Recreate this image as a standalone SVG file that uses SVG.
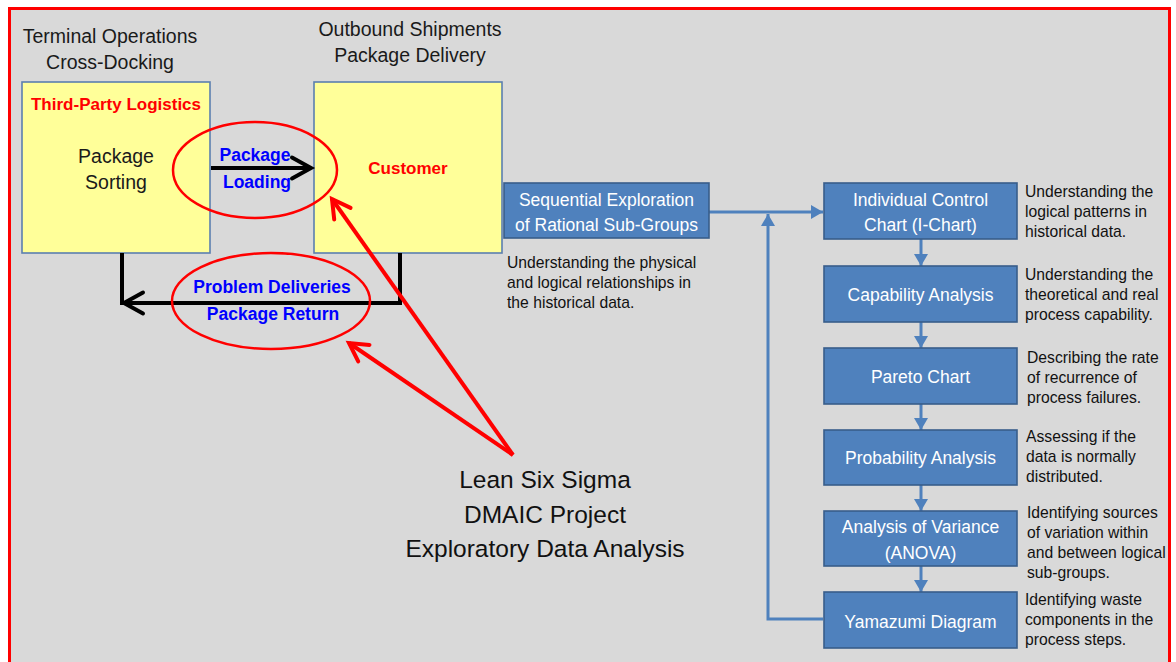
<svg xmlns="http://www.w3.org/2000/svg" width="1176" height="662" viewBox="0 0 1176 662">
  <style>
    .sans { font-family: "Liberation Sans", Arial, sans-serif; }
    .title { font-size: 19.5px; fill: #1a1a1a; text-anchor: middle; }
    .yellow { fill: #FFFF99; stroke: #5B7FAF; stroke-width: 1.6; }
    .bluebox { fill: #4F81BD; stroke: #385D8A; stroke-width: 1.6; }
    .boxtext { font-size: 17.5px; fill: #ffffff; text-anchor: middle; }
    .desc { font-size: 15.7px; fill: #111111; }
    .redbold { font-size: 17px; font-weight: bold; fill: #FF0000; text-anchor: middle; }
    .bluebold { font-size: 17.5px; font-weight: bold; fill: #0000FF; text-anchor: middle; }
    .flow { stroke: #4F81BD; stroke-width: 3; fill: none; }
    .black { stroke: #000000; stroke-width: 4; fill: none; }
    .ring { stroke: #FF0000; stroke-width: 2.5; fill: none; }
    .pointer { stroke: #FF0000; stroke-width: 4; fill: none; }
    .caption { font-size: 24.5px; fill: #111111; text-anchor: middle; }
  </style>
  <defs>
    <marker id="blackHead" markerUnits="userSpaceOnUse" markerWidth="30" markerHeight="30" orient="auto" overflow="visible" refX="0" refY="0">
      <path d="M-19,-10.5 L0,0 L-19,10.5" fill="none" stroke="#000000" stroke-width="4" stroke-linecap="round" stroke-linejoin="miter"/>
    </marker>
    <marker id="redHead" markerUnits="userSpaceOnUse" markerWidth="30" markerHeight="30" orient="auto" overflow="visible" refX="0" refY="0">
      <path d="M-18,-10 L0,0 L-18,10" fill="none" stroke="#FF0000" stroke-width="4" stroke-linecap="round" stroke-linejoin="miter"/>
    </marker>
    <marker id="blueHead" markerUnits="userSpaceOnUse" markerWidth="20" markerHeight="20" orient="auto" overflow="visible" refX="0" refY="0">
      <path d="M-12,-7 L0,0 L-12,7 Z" fill="#4F81BD"/>
    </marker>
  </defs>

  <!-- page and frame -->
  <rect x="0" y="0" width="1176" height="662" fill="#ffffff"/>
  <rect x="9.5" y="8.5" width="1160" height="700" fill="#D9D9D9" stroke="#FF0000" stroke-width="3"/>

  <!-- column headings -->
  <g id="heading-terminal" class="sans">
    <text class="title" x="110" y="43">Terminal Operations</text>
    <text class="title" x="110" y="69">Cross-Docking</text>
  </g>
  <g id="heading-outbound" class="sans">
    <text class="title" x="410" y="36">Outbound Shipments</text>
    <text class="title" x="410" y="62">Package Delivery</text>
  </g>

  <!-- third-party logistics -->
  <g id="node-3pl" class="sans">
    <rect class="yellow" x="22" y="82" width="188" height="171"/>
    <text class="redbold" x="116" y="110">Third-Party Logistics</text>
    <text class="title" x="116" y="163">Package</text>
    <text class="title" x="116" y="189">Sorting</text>
  </g>

  <!-- customer -->
  <g id="node-customer" class="sans">
    <rect class="yellow" x="314" y="82" width="188" height="171"/>
    <text class="redbold" x="408" y="174" font-size="18.5">Customer</text>
  </g>

  <!-- connectors -->
  <g id="connectors">
    <!-- loading and return flows -->
    <line class="black" x1="211" y1="168" x2="311" y2="168" marker-end="url(#blackHead)"/>
    <path class="black" d="M400,253 V303 H124" stroke-linejoin="miter" marker-end="url(#blackHead)"/>
    <line class="black" x1="122" y1="253" x2="122" y2="305"/>

    <!-- analysis flow -->
    <line class="flow" x1="709" y1="212" x2="823" y2="212" marker-end="url(#blueHead)"/>
    <path class="flow" d="M823,619 H768 V214" marker-end="url(#blueHead)"/>
    <line class="flow" x1="921" y1="239" x2="921" y2="266" marker-end="url(#blueHead)"/>
    <line class="flow" x1="921" y1="322" x2="921" y2="348" marker-end="url(#blueHead)"/>
    <line class="flow" x1="921" y1="404" x2="921" y2="430" marker-end="url(#blueHead)"/>
    <line class="flow" x1="921" y1="485" x2="921" y2="511" marker-end="url(#blueHead)"/>
    <line class="flow" x1="921" y1="566" x2="921" y2="592" marker-end="url(#blueHead)"/>

    <!-- callout pointers -->
    <line class="pointer" x1="513" y1="455" x2="332" y2="199" marker-end="url(#redHead)"/>
    <line class="pointer" x1="513" y1="455" x2="349" y2="343" marker-end="url(#redHead)"/>
  </g>

  <!-- flow labels with highlight rings -->
  <g id="label-loading" class="sans">
    <text class="bluebold" x="255" y="161">Package</text>
    <text class="bluebold" x="257" y="188">Loading</text>
    <ellipse class="ring" cx="255" cy="170" rx="82" ry="48"/>
  </g>
  <g id="label-return" class="sans">
    <text class="bluebold" x="272" y="293">Problem Deliveries</text>
    <text class="bluebold" x="273" y="320">Package Return</text>
    <ellipse class="ring" cx="271" cy="301" rx="99" ry="48"/>
  </g>

  <!-- project caption -->
  <g id="caption" class="sans">
    <text class="caption" x="545" y="488">Lean Six Sigma</text>
    <text class="caption" x="545" y="523">DMAIC Project</text>
    <text class="caption" x="545" y="557">Exploratory Data Analysis</text>
  </g>

  <!-- sequential exploration -->
  <g id="node-sequential" class="sans">
    <rect class="bluebox" x="504" y="183" width="205" height="55"/>
    <text class="boxtext" x="606.5" y="206" font-size="18.2">Sequential Exploration</text>
    <text class="boxtext" x="606.5" y="231" font-size="18.2">of Rational Sub-Groups</text>
    <text class="desc" x="507" y="268">Understanding the physical</text>
    <text class="desc" x="507" y="288">and logical relationships in</text>
    <text class="desc" x="507" y="308">the historical data.</text>
  </g>

  <!-- analysis steps -->
  <g id="node-ichart" class="sans">
    <rect class="bluebox" x="824" y="183" width="193" height="56"/>
    <text class="boxtext" x="920.5" y="206">Individual Control</text>
    <text class="boxtext" x="920.5" y="231">Chart (I-Chart)</text>
    <text class="desc" x="1025" y="197">Understanding the</text>
    <text class="desc" x="1025" y="217">logical patterns in</text>
    <text class="desc" x="1025" y="237">historical data.</text>
  </g>

  <g id="node-capability" class="sans">
    <rect class="bluebox" x="824" y="266" width="193" height="56"/>
    <text class="boxtext" x="920.5" y="301">Capability Analysis</text>
    <text class="desc" x="1025" y="280">Understanding the</text>
    <text class="desc" x="1025" y="300">theoretical and real</text>
    <text class="desc" x="1025" y="320">process capability.</text>
  </g>

  <g id="node-pareto" class="sans">
    <rect class="bluebox" x="824" y="348" width="193" height="56"/>
    <text class="boxtext" x="920.5" y="383">Pareto Chart</text>
    <text class="desc" x="1027" y="363">Describing the rate</text>
    <text class="desc" x="1027" y="383">of recurrence of</text>
    <text class="desc" x="1027" y="403">process failures.</text>
  </g>

  <g id="node-probability" class="sans">
    <rect class="bluebox" x="824" y="430" width="193" height="55"/>
    <text class="boxtext" x="920.5" y="464">Probability Analysis</text>
    <text class="desc" x="1026" y="442">Assessing if the</text>
    <text class="desc" x="1026" y="462">data is normally</text>
    <text class="desc" x="1026" y="482">distributed.</text>
  </g>

  <g id="node-anova" class="sans">
    <rect class="bluebox" x="824" y="511" width="193" height="55"/>
    <text class="boxtext" x="920.5" y="533">Analysis of Variance</text>
    <text class="boxtext" x="920.5" y="559">(ANOVA)</text>
    <text class="desc" x="1027" y="518">Identifying sources</text>
    <text class="desc" x="1027" y="538">of variation within</text>
    <text class="desc" x="1027" y="558">and between logical</text>
    <text class="desc" x="1027" y="578">sub-groups.</text>
  </g>

  <g id="node-yamazumi" class="sans">
    <rect class="bluebox" x="824" y="592" width="193" height="56"/>
    <text class="boxtext" x="920.5" y="628">Yamazumi Diagram</text>
    <text class="desc" x="1025" y="605">Identifying waste</text>
    <text class="desc" x="1025" y="625">components in the</text>
    <text class="desc" x="1025" y="645">process steps.</text>
  </g>
</svg>
